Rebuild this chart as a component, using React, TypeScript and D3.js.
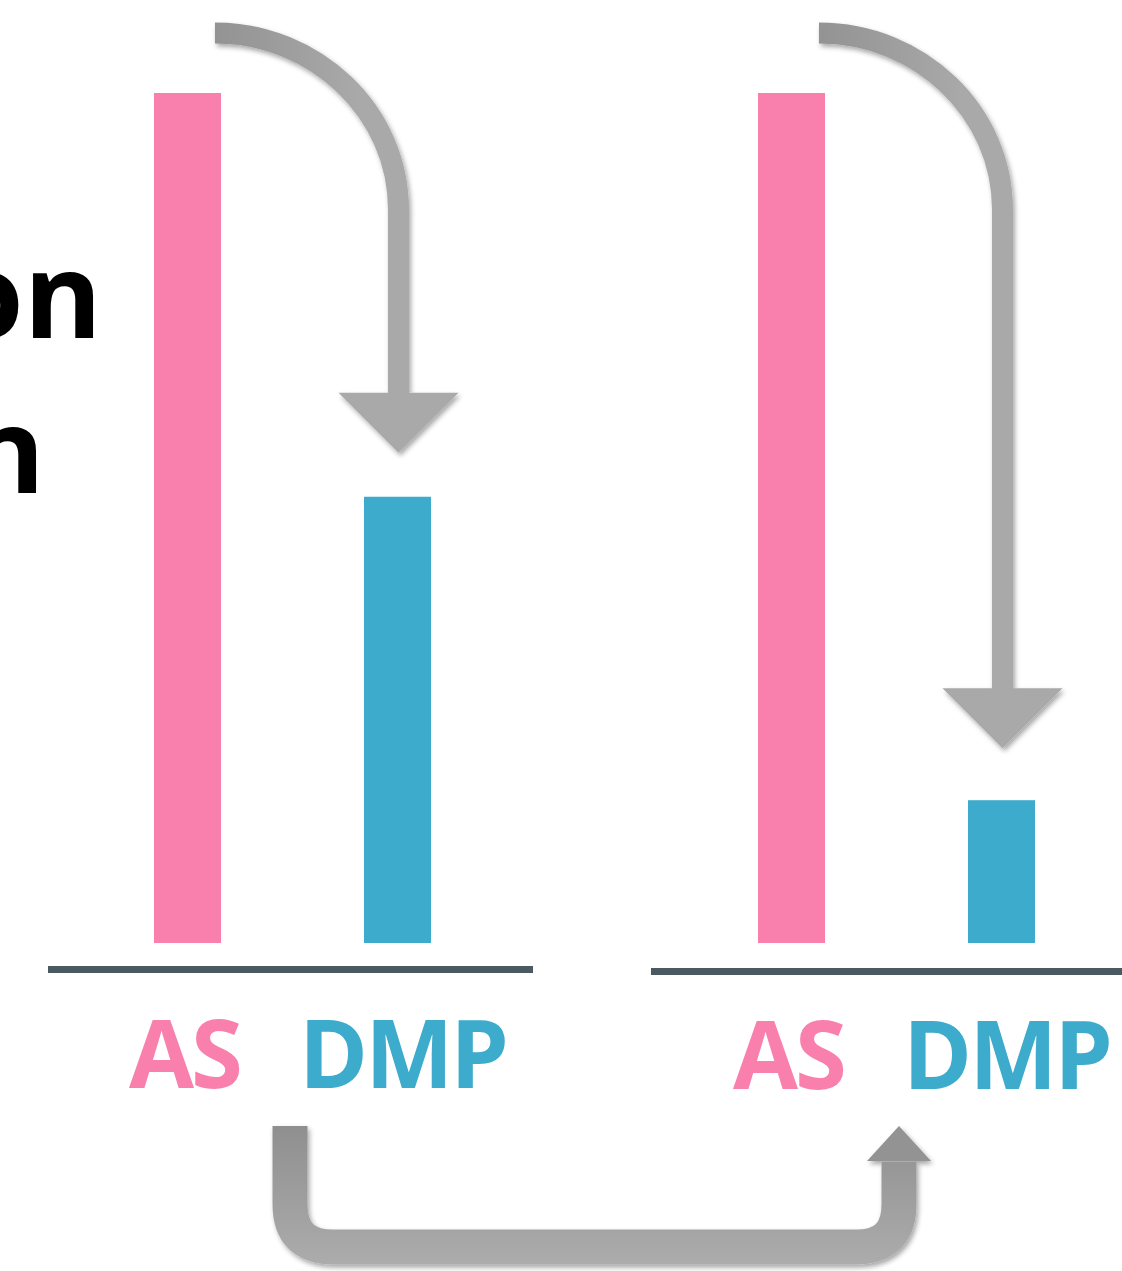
import React from "react";
import * as d3 from "d3";

// Categories and bar values for the two panels (AS normalised to 100)
const categories = ["AS", "DMP"];
const panelLeftValues = [100, 52.5];
const panelRightValues = [100, 16.8];
const sideText = ["on", "n"];

const W = 1122;
const H = 1271;

const PINK = "#f97fac";
const BLUE = "#3dabcc";
const AXIS = "#4b5a61";
const colorFor: Record<string, string> = { AS: PINK, DMP: BLUE };
const FONT = "'Open Sans', 'Noto Sans', sans-serif";

const y = d3.scaleLinear().domain([0, 100]).range([943, 93]);

// Each panel: band range for bar positions, baseline extents
const panels = [
  { values: panelLeftValues, range: [49, 536] as [number, number], axis: [48, 533], axisY: 969.5, labelY: 1088, tipGap: 44 },
  { values: panelRightValues, range: [653, 1140] as [number, number], axis: [651, 1122], axisY: 971.5, labelY: 1089, tipGap: 52 },
];

const labelShift: Record<string, number> = { AS: -3, DMP: 5 };
const labelWidth: Record<string, number> = { AS: 111, DMP: 207 };

function bandFor(range: [number, number]) {
  return d3.scaleBand<string>().domain(categories).range(range).paddingInner(0.681).paddingOuter(0.5);
}

// curved down-arrow from top-left to above a bar
function downArrow(x0: number, xv: number, yTop: number, yHeadBase: number) {
  const rx = xv - x0;
  const ry = 177;
  const p = d3.path();
  p.moveTo(x0, yTop);
  p.bezierCurveTo(x0 + rx * 0.552, yTop, xv, yTop + ry * (1 - 0.552), xv, yTop + ry);
  p.lineTo(xv, yHeadBase + 1);
  return p.toString();
}

export default function App() {
  const bars: JSX.Element[] = [];
  const labels: JSX.Element[] = [];
  const axes: JSX.Element[] = [];
  const arrows: JSX.Element[] = [];

  panels.forEach((pn, pi) => {
    const x = bandFor(pn.range);
    const bw = x.bandwidth();
    categories.forEach((c, i) => {
      const v = pn.values[i];
      bars.push(
        <rect key={`b${pi}${c}`} x={x(c)} y={y(v)} width={bw} height={y(0) - y(v)} fill={colorFor[c]} />
      );
      const cx = (x(c) as number) + bw / 2 + labelShift[c];
      labels.push(
        <text
          key={`l${pi}${c}`}
          x={cx}
          y={pn.labelY}
          textAnchor="middle"
          fill={colorFor[c]}
          fontFamily={FONT}
          fontWeight={700}
          fontSize={95}
          letterSpacing={-3}
          textLength={labelWidth[c]}
          lengthAdjust="spacingAndGlyphs"
        >
          {c}
        </text>
      );
    });
    axes.push(
      <line key={`a${pi}`} x1={pn.axis[0]} x2={pn.axis[1]} y1={pn.axisY} y2={pn.axisY} stroke={AXIS} strokeWidth={7} />
    );

    // arrow pointing down onto the DMP bar
    const xAS = x("AS") as number;
    const xD = (x("DMP") as number) + bw / 2 + 1;
    const x0 = xAS + bw - 6;
    const tipY = y(pn.values[1]) - pn.tipGap;
    const headBase = tipY - 60;
    arrows.push(
      <g key={`ar${pi}`} filter="url(#soft)">
        <path
          d={downArrow(x0, xD, 33, headBase)}
          fill="none"
          stroke={`url(#gArrow${pi})`}
          strokeWidth={21}
        />
        <polygon points={`${xD - 60},${headBase} ${xD + 60},${headBase} ${xD},${tipY}`} fill="#a9a9a9" />
      </g>
    );
  });

  // bottom connector from the left DMP label to the right DMP label
  const bx0 = 290;
  const bx1 = 899;
  const bTop = 1126;
  const bY = 1247;
  const r = 43;
  const headBaseY = 1161;
  const bp = d3.path();
  bp.moveTo(bx0, bTop);
  bp.lineTo(bx0, bY - r);
  bp.quadraticCurveTo(bx0, bY, bx0 + r, bY);
  bp.lineTo(bx1 - r, bY);
  bp.quadraticCurveTo(bx1, bY, bx1, bY - r);
  bp.lineTo(bx1, headBaseY + 1);

  return (
    <svg
      width={W}
      height={H}
      viewBox={`0 0 ${W} ${H}`}
      style={{ position: "absolute", left: 0, top: 0, display: "block", background: "#fff" }}
    >
      <defs>
        <filter id="soft" x="-20%" y="-20%" width="140%" height="140%">
          <feDropShadow dx="2" dy="3" stdDeviation="2.5" floodColor="#000" floodOpacity="0.35" />
        </filter>
        <linearGradient id="gArrow0" gradientUnits="userSpaceOnUse" x1="215" y1="0" x2="360" y2="0">
          <stop offset="0" stopColor="#939393" />
          <stop offset="1" stopColor="#a9a9a9" />
        </linearGradient>
        <linearGradient id="gArrow1" gradientUnits="userSpaceOnUse" x1="819" y1="0" x2="964" y2="0">
          <stop offset="0" stopColor="#939393" />
          <stop offset="1" stopColor="#a9a9a9" />
        </linearGradient>
        <linearGradient id="gBottom" gradientUnits="userSpaceOnUse" x1="0" y1="1126" x2="0" y2="1265">
          <stop offset="0" stopColor="#8f8f8f" />
          <stop offset="1" stopColor="#acacac" />
        </linearGradient>
      </defs>

      <rect x={0} y={0} width={W} height={H} fill="#fff" />

      {/* side caption, clipped at the left edge */}
      {sideText.map((t, i) => (
        <text
          key={t + i}
          x={i === 0 ? 102 : 45}
          y={i === 0 ? 338 : 493}
          textAnchor="end"
          fontFamily={FONT}
          fontWeight={700}
          fontSize={119}
          fill="#000"
        >
          {t}
        </text>
      ))}

      {bars}
      {axes}
      {labels}
      {arrows}

      <g filter="url(#soft)">
        <path d={bp.toString()} fill="none" stroke="url(#gBottom)" strokeWidth={35} />
        <polygon points={`${bx1 - 32},${headBaseY} ${bx1 + 32},${headBaseY} ${bx1},${bTop}`} fill="#939393" />
      </g>
    </svg>
  );
}
